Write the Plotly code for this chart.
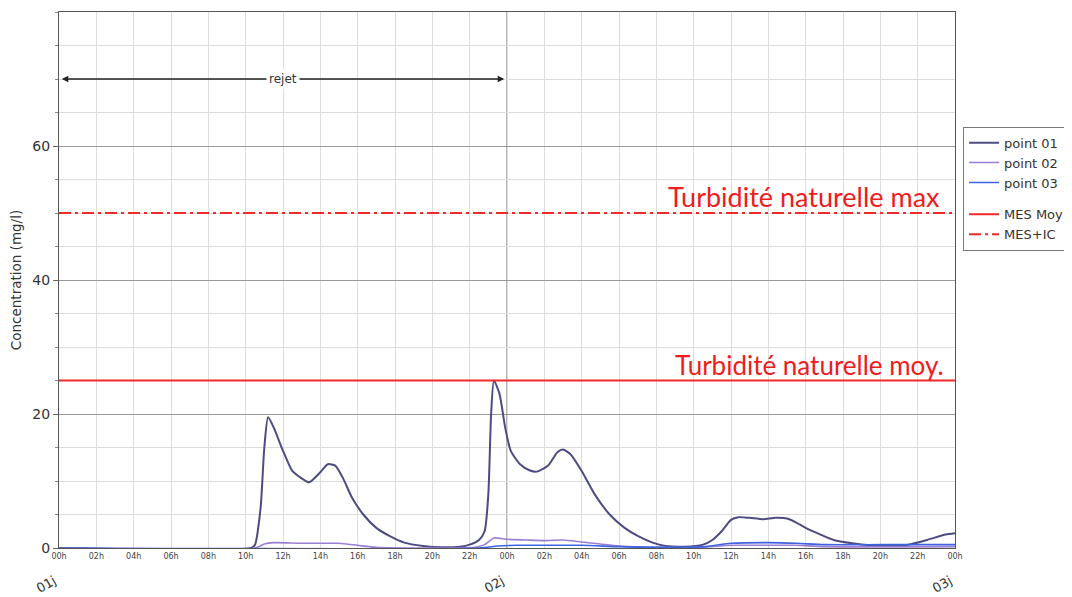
import plotly.graph_objects as go

# ---- data ----
hours_p1 = [0, 10.3, 10.5, 10.8, 11.0, 11.2, 11.5, 12.0, 12.5, 13.0, 13.4, 14.0, 14.4, 14.8, 15.2, 15.7, 16.3,
            17.0, 17.7, 18.5, 19.5, 20.5, 21.5, 22.0, 22.5, 22.8, 23.0, 23.15, 23.3, 23.6, 23.9, 24.2, 24.7,
            25.2, 25.6, 26.2, 26.7, 27.0, 27.4, 28.0, 28.7, 29.5, 30.3, 31.0, 31.8, 32.5, 33.5, 34.5, 35.0,
            35.5, 36.0, 36.4, 37.0, 37.7, 38.4, 39.0, 39.5, 40.0, 40.8, 41.5, 42.5, 43.5, 44.5, 45.5, 46.5,
            47.5, 48.0]
point01 = [0, 0, 0.5, 6, 15, 19.5, 18, 14.5, 11.5, 10.4, 9.8, 11.3, 12.5, 12.3, 10.5, 7.5, 5,
           3, 1.8, 0.8, 0.3, 0.1, 0.2, 0.5, 1.2, 2.5, 8, 20, 25, 23, 18, 14.5, 12.5,
           11.6, 11.4, 12.3, 14.3, 14.7, 14.0, 11.5, 8, 5, 3, 1.8, 0.8, 0.3, 0.2, 0.5, 1.2,
           2.5, 4.2, 4.6, 4.5, 4.3, 4.5, 4.4, 3.8, 3.0, 2.0, 1.2, 0.7, 0.4, 0.3, 0.5, 1.2,
           2.0, 2.2]

hours_p2 = [0, 10.5, 11.0, 11.5, 13.0, 15.0, 16.0, 17.0, 22.3, 22.8, 23.3, 24.0, 25.0, 26.0, 27.0, 28.0,
            29.0, 30.0, 32.0, 34.5, 36.0, 38.0, 39.5, 41.0, 48.0]
point02 = [0, 0, 0.6, 0.8, 0.7, 0.7, 0.4, 0.1, 0.1, 0.5, 1.5, 1.3, 1.2, 1.1, 1.2, 0.9,
           0.6, 0.3, 0.1, 0.1, 0.4, 0.4, 0.4, 0.2, 0.2]

hours_p3 = [0, 22.5, 23.5, 24.5, 26.0, 28.0, 30.0, 32.0, 34.5, 36.0, 38.0, 39.5, 41.0, 44.0, 48.0]
point03 = [0, 0, 0.3, 0.4, 0.4, 0.4, 0.2, 0.1, 0.2, 0.7, 0.8, 0.7, 0.5, 0.5, 0.5]

mes_moy = 25
mes_ic = 50
x_start, x_end = 0, 48
day_hours = [0, 24, 48]
day_labels = ["01j", "02j", "03j"]
tick_hours = list(range(0, 49, 2))
tick_labels = ["%02dh" % (h % 24) for h in tick_hours]
rejet_start, rejet_end = 0.15, 23.85
rejet_y = 70

fig = go.Figure()
fig.add_trace(go.Scatter(x=hours_p1, y=point01, mode="lines", name="point 01",
                         line=dict(color="#4c4c82", width=2, shape="spline", smoothing=0.6),
                         legendgroup="a"))
fig.add_trace(go.Scatter(x=hours_p2, y=point02, mode="lines", name="point 02",
                         line=dict(color="#9b7fd4", width=1.6, shape="spline", smoothing=0.6),
                         legendgroup="a"))
fig.add_trace(go.Scatter(x=hours_p3, y=point03, mode="lines", name="point 03",
                         line=dict(color="#3f62e0", width=1.6, shape="spline", smoothing=0.6),
                         legendgroup="a"))
fig.add_trace(go.Scatter(x=[x_start, x_end], y=[mes_moy, mes_moy], mode="lines", name="MES Moy",
                         line=dict(color="#ee2a2a", width=2), legendgroup="b"))
fig.add_trace(go.Scatter(x=[x_start, x_end], y=[mes_ic, mes_ic], mode="lines", name="MES+IC",
                         line=dict(color="#ee2a2a", width=2, dash="12px,4px,3px,4px"), legendgroup="b"))

# vertical day separator
fig.add_shape(type="line", x0=day_hours[1], x1=day_hours[1], y0=0, y1=1, yref="paper",
              line=dict(color="#888888", width=1.2), layer="below")

anns = []
anns.append(dict(x=47.3, y=mes_ic, xref="x", yref="y", text="Turbidité naturelle max",
                 showarrow=False, xanchor="right", yanchor="bottom", yshift=-2,
                 font=dict(family="Lato, Open Sans, sans-serif", size=27, color="#ee1c1c")))
anns.append(dict(x=47.5, y=mes_moy, xref="x", yref="y", text="Turbidité naturelle moy.",
                 showarrow=False, xanchor="right", yanchor="bottom", yshift=-2,
                 font=dict(family="Lato, Open Sans, sans-serif", size=26, color="#ee1c1c")))
mid = (rejet_start + rejet_end) / 2
for tip in (rejet_start, rejet_end):
    anns.append(dict(x=tip, y=rejet_y, ax=mid, ay=rejet_y, xref="x", yref="y", axref="x", ayref="y",
                     text="", showarrow=True, arrowhead=2, arrowsize=1, arrowwidth=1.3,
                     arrowcolor="#222222"))
anns.append(dict(x=mid, y=rejet_y, xref="x", yref="y", text="rejet", showarrow=False,
                 bgcolor="white", borderpad=2,
                 font=dict(family="DejaVu Sans, sans-serif", size=12, color="#333333")))
for h, lab in zip(day_hours, day_labels):
    anns.append(dict(x=h, y=-0.094, xref="x", yref="paper", text=lab, showarrow=False,
                     textangle=-30, xshift=-13,
                     font=dict(family="DejaVu Sans, sans-serif", size=13, color="#333333")))

fig.update_layout(
    width=1064, height=591,
    margin=dict(l=51, r=117, t=4, b=51, autoexpand=False),
    paper_bgcolor="white", plot_bgcolor="white",
    annotations=anns,
    showlegend=True,
    legend=dict(x=1.009, y=0.786, xanchor="left", yanchor="top",
                bordercolor="#777777", borderwidth=1, bgcolor="white",
                font=dict(family="DejaVu Sans, sans-serif", size=13, color="#333333"),
                traceorder="grouped", tracegroupgap=12, itemwidth=30),
    font=dict(family="DejaVu Sans, sans-serif", color="#333333"),
)
fig.update_xaxes(range=[x_start, x_end], tickvals=tick_hours, ticktext=tick_labels,
                 tickfont=dict(size=8, color="#444444"), showgrid=True, gridcolor="#dddddd",
                 gridwidth=1, showline=True, linecolor="#555555", linewidth=1.2, mirror=True,
                 zeroline=False, ticks="", tickangle=0, automargin=False)
fig.update_yaxes(range=[0, 80], tickvals=[0, 20, 40, 60], showgrid=True, gridcolor="#999999",
                 gridwidth=1, minor=dict(dtick=5, showgrid=True, gridcolor="#dcdcdc", ticks="outside",
                                         ticklen=3, tickcolor="#888888"),
                 ticks="outside", ticklen=5, tickcolor="#666666",
                 tickfont=dict(size=14, color="#333333"),
                 title=dict(text="Concentration (mg/l)", font=dict(size=13.5, color="#333333"), standoff=8),
                 showline=True, linecolor="#555555", linewidth=1.2, mirror=True, zeroline=False,
                 automargin=False)

fig.write_html("out.html")
